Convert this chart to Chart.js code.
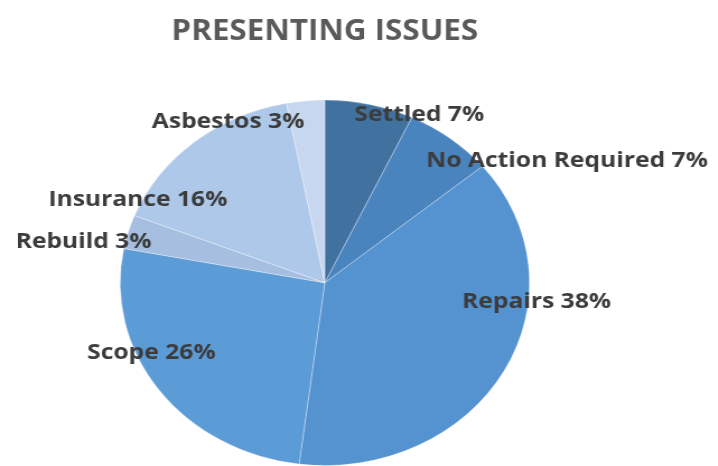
<!DOCTYPE html>
<html>
<head>
<meta charset="utf-8">
<script src="https://cdn.jsdelivr.net/npm/chart.js@4.4.1/dist/chart.umd.min.js"></script>
<style>
  html, body { margin: 0; padding: 0; background: #ffffff; overflow: hidden; }
  #wrap { position: absolute; left: 0; top: 0; width: 641px; height: 466px; transform: scaleX(1.12); transform-origin: 0 0; }
</style>
</head>
<body>
<div id="wrap"><canvas id="c"></canvas></div>
<script>
// ---- data ----
const categories = ['Settled', 'No Action Required', 'Repairs', 'Scope', 'Rebuild', 'Insurance', 'Asbestos'];
const percentages = [7, 7, 38, 26, 3, 16, 3];
const chartTitle = 'PRESENTING ISSUES';

// ---- styles ----
const sliceColors = ['#41729f', '#4a84bf', '#5592d0', '#5b9bd6', '#a6bfe1', '#aec8ea', '#c6d7ef'];
// label placement relative to each slice: [radius factor, angle shift in degrees from slice middle]
const labelPlacement = [[1.03, 14], [1.36, 22.7], [1.04, -23], [0.93, 11.7], [1.20, -5.5], [1.02, -24], [1.0, -22.8]];

const labelPlugin = {
  id: 'sliceLabels',
  afterDatasetsDraw(chart) {
    const ctx = chart.ctx;
    const meta = chart.getDatasetMeta(0);
    ctx.save();
    ctx.font = 'bold 22px "Open Sans", "DejaVu Sans", sans-serif';
    ctx.fillStyle = '#3c3c3c';
    ctx.textAlign = 'center';
    ctx.textBaseline = 'middle';
    meta.data.forEach((arc, i) => {
      const p = arc.getProps(['x', 'y', 'startAngle', 'endAngle', 'outerRadius'], true);
      const mid = (p.startAngle + p.endAngle) / 2;
      const a = mid + labelPlacement[i][1] * Math.PI / 180;
      const r = p.outerRadius * labelPlacement[i][0];
      const text = categories[i] + ' ' + percentages[i] + '%';
      ctx.fillText(text, p.x + Math.cos(a) * r, p.y + Math.sin(a) * r);
    });
    ctx.restore();
  }
};

new Chart(document.getElementById('c'), {
  type: 'pie',
  data: {
    labels: categories,
    datasets: [{
      data: percentages,
      backgroundColor: sliceColors,
      borderColor: 'rgba(255,255,255,0.3)',
      borderWidth: 1
    }]
  },
  options: {
    responsive: true,
    maintainAspectRatio: false,
    animation: false,
    layout: { padding: { left: 0, right: 61, top: 0, bottom: 0 } },
    plugins: {
      legend: { display: false },
      tooltip: { enabled: false },
      title: {
        display: true,
        text: chartTitle,
        color: '#5a5a5a',
        font: { family: '"Open Sans", "DejaVu Sans", sans-serif', size: 28, weight: 'bold' },
        padding: { top: 15, bottom: 51 }
      }
    }
  },
  plugins: [labelPlugin]
});
</script>
</body>
</html>
